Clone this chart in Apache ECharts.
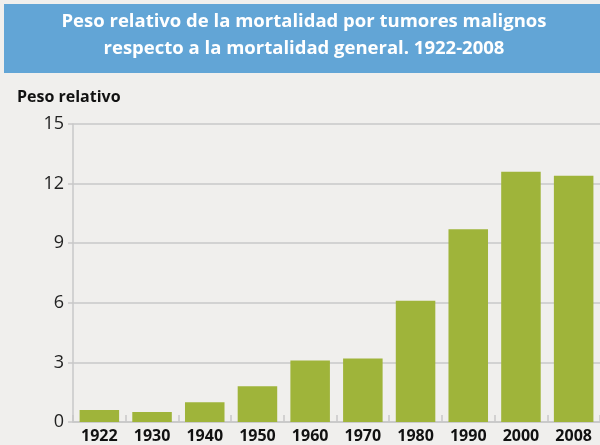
<!DOCTYPE html>
<html>
<head>
<meta charset="utf-8">
<script src="https://cdn.jsdelivr.net/npm/echarts@6/dist/echarts.min.js"></script>
<style>
  html, body { margin: 0; padding: 0; background: #f0efed; }
  #main { width: 600px; height: 445px; }
</style>
</head>
<body>
<div id="main"></div>
<script>
// años y peso relativo (%)
const years = ['1922', '1930', '1940', '1950', '1960', '1970', '1980', '1990', '2000', '2008'];
const pesoRelativo = [0.6, 0.5, 1.0, 1.8, 3.1, 3.2, 6.1, 9.7, 12.6, 12.4];
const yTicks = [0, 3, 6, 9, 12, 15];

const titleLines = [
    'Peso relativo de la mortalidad por tumores malignos',
    'respecto a la mortalidad general. 1922-2008'
];

const chart = echarts.init(document.getElementById('main'));

// cada línea del título centrada por separado
const titleTexts = titleLines.map((line, i) => ({
    type: 'text',
    x: 304, y: 12 + i * 27,
    style: {
        text: line,
        fill: '#ffffff',
        font: 'bold 18.5px "Open Sans"',
        align: 'center'
    }
}));

const option = {
    backgroundColor: '#f0efed',
    animation: false,
    graphic: [
        {
            type: 'rect',
            left: 4, top: 4,
            shape: { width: 596, height: 69 },
            style: { fill: '#62a5d6' }
        },
        ...titleTexts,
        {
            type: 'text',
            left: 17, top: 89,
            style: {
                text: 'Peso relativo',
                fill: '#111111',
                font: 'bold 16px "Open Sans"'
            }
        }
    ],
    grid: {
        left: 73,
        right: 0,
        top: 124,
        bottom: 23
    },
    xAxis: {
        type: 'category',
        data: years,
        axisLine: { lineStyle: { color: '#c8c8c8', width: 1.5 } },
        axisTick: {
            show: true,
            inside: true,
            length: 7,
            lineStyle: { color: '#c8c8c8', width: 1.5 }
        },
        axisLabel: {
            color: '#111111',
            fontFamily: 'Open Sans',
            fontWeight: 'bold',
            fontSize: 16,
            margin: 6
        }
    },
    yAxis: {
        type: 'value',
        min: yTicks[0],
        max: yTicks[yTicks.length - 1],
        interval: 3,
        axisLine: { show: true, lineStyle: { color: '#c8c8c8', width: 1.5 } },
        axisTick: { show: true, length: 5, lineStyle: { color: '#c8c8c8', width: 1.5 } },
        splitLine: { lineStyle: { color: '#c8c8c8', width: 1.5 } },
        axisLabel: {
            color: '#222222',
            fontFamily: 'Open Sans',
            fontSize: 18,
            margin: 9
        }
    },
    series: [
        {
            type: 'bar',
            data: pesoRelativo,
            barCategoryGap: '25%',
            itemStyle: { color: '#9fb43a' }
        }
    ]
};

chart.setOption(option);
</script>
</body>
</html>
